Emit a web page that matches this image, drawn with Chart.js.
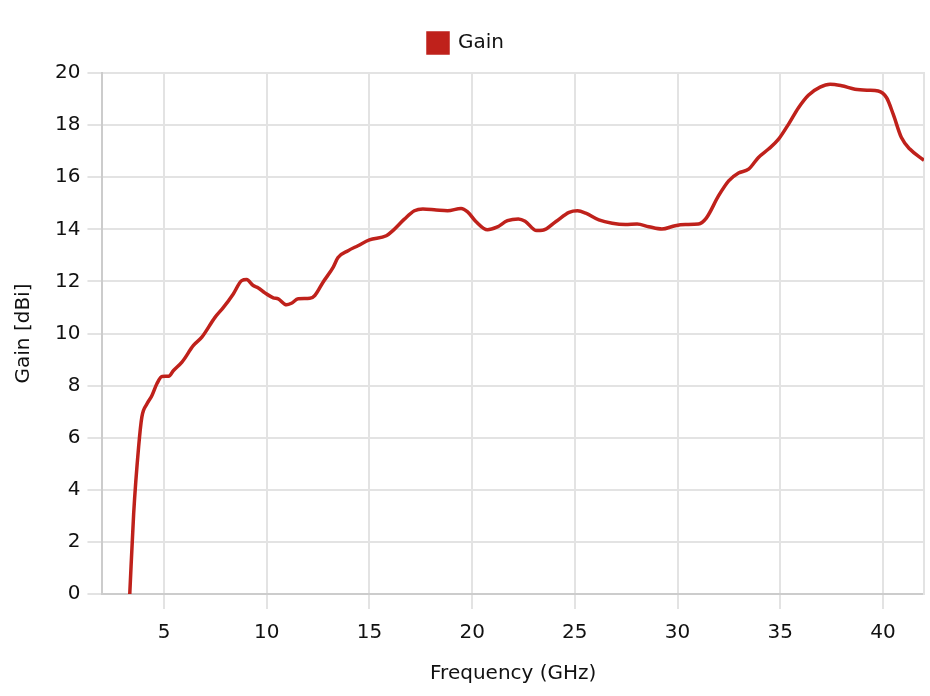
<!DOCTYPE html>
<html lang="en">
<head>
  <meta charset="UTF-8" />
  <title>Gain vs Frequency</title>
  <script src="https://cdn.jsdelivr.net/npm/chart.js"></script>
  <style>
    body { margin: 0; background: #fff; }
    .wrap { width: 930px; height: 696px; }
  </style>
</head>
<body>
  <div class="wrap"><canvas id="gainChart" width="930" height="696"></canvas></div>
  <script>
    const freqGHz = [3.33, 3.52, 3.76, 3.92, 4.17, 4.41, 4.65, 4.9, 5.22, 5.46, 5.87, 6.43, 6.84, 7.48, 7.89, 8.37, 8.78, 9.02, 9.34, 9.59, 9.91, 10.32, 10.56, 10.96, 11.2, 11.53, 12.1, 12.34, 12.74, 13.23, 13.47, 13.96, 14.44, 15.0, 15.82, 16.14, 16.7, 17.19, 17.6, 18.25, 18.8, 19.46, 19.78, 20.18, 20.75, 21.2, 21.72, 22.25, 22.58, 23.14, 23.43, 24.08, 24.72, 25.13, 25.53, 26.17, 26.82, 27.46, 28.03, 28.6, 29.24, 29.89, 30.38, 31.02, 31.4, 32.0, 32.49, 32.97, 33.46, 33.94, 34.43, 34.92, 35.4, 35.89, 36.37, 36.94, 37.43, 37.99, 38.64, 39.29, 39.77, 40.18, 40.5, 40.9, 41.31, 42.0];
    const gainDbi = [0, 3.09, 5.64, 6.8, 7.3, 7.62, 8.07, 8.35, 8.36, 8.58, 8.9, 9.54, 9.86, 10.62, 11.0, 11.52, 12.03, 12.07, 11.84, 11.75, 11.56, 11.37, 11.33, 11.1, 11.16, 11.33, 11.35, 11.46, 11.97, 12.54, 12.92, 13.18, 13.37, 13.59, 13.75, 13.95, 14.39, 14.71, 14.78, 14.74, 14.71, 14.8, 14.67, 14.3, 13.98, 14.08, 14.33, 14.4, 14.31, 13.95, 13.96, 14.3, 14.65, 14.71, 14.62, 14.36, 14.23, 14.18, 14.2, 14.1, 14.01, 14.14, 14.18, 14.2, 14.43, 15.29, 15.86, 16.16, 16.31, 16.76, 17.08, 17.46, 18.03, 18.67, 19.15, 19.46, 19.57, 19.51, 19.38, 19.34, 19.31, 19.05, 18.42, 17.52, 17.08, 16.65];
    const xTicks = [5, 10, 15, 20, 25, 30, 35, 40];
    const xMin = 2;
    const xMax = 42;

    const lineColor = '#bf211b';
    const fontFamily = "'DejaVu Sans', sans-serif";

    Chart.defaults.font.family = fontFamily;
    Chart.defaults.color = '#111';

    // extra room under the legend
    const legendGap = {
      id: 'legendGap',
      beforeInit(chart) {
        const fit = chart.legend.fit;
        chart.legend.fit = function () {
          fit.bind(chart.legend)();
          this.height += 10;
        };
      }
    };

    new Chart(document.getElementById('gainChart'), {
      type: 'line',
      data: {
        datasets: [{
          label: 'Gain',
          data: freqGHz.map((f, i) => ({ x: f, y: gainDbi[i] })),
          borderColor: lineColor,
          backgroundColor: lineColor,
          borderWidth: 3.5,
          pointRadius: 0,
          cubicInterpolationMode: 'monotone',
          fill: false
        }]
      },
      options: {
        responsive: false,
        animation: false,
        layout: { padding: { left: 8, right: 6, top: 11, bottom: 6 } },
        plugins: {
          legend: {
            labels: { boxWidth: 20, boxHeight: 20, font: { size: 20 }, padding: 22 }
          },
          tooltip: { enabled: false }
        },
        scales: {
          x: {
            type: 'linear',
            min: xMin,
            max: xMax,
            afterBuildTicks: scale => { scale.ticks = xTicks.map(v => ({ value: v })); },
            ticks: { font: { size: 20 }, padding: 12 },
            grid: { color: '#e3e3e3', lineWidth: 2, tickLength: 15 },
            border: { color: '#cccccc', width: 2 },
            title: { display: true, text: 'Frequency (GHz)', font: { size: 20 }, padding: { top: 5 } }
          },
          y: {
            min: 0,
            max: 20,
            ticks: { stepSize: 2, font: { size: 20 }, padding: 7 },
            grid: { color: '#e3e3e3', lineWidth: 2, tickLength: 15 },
            border: { color: '#cccccc', width: 2 },
            title: { display: true, text: 'Gain [dBi]', font: { size: 20 }, padding: { top: 4, bottom: 12 } }
          },
          yRight: {
            position: 'right',
            min: 0,
            max: 20,
            ticks: { display: false },
            grid: { drawOnChartArea: false, drawTicks: false },
            border: { color: '#e3e3e3', width: 2 }
          }
        }
      },
      plugins: [legendGap]
    });
  </script>
</body>
</html>
